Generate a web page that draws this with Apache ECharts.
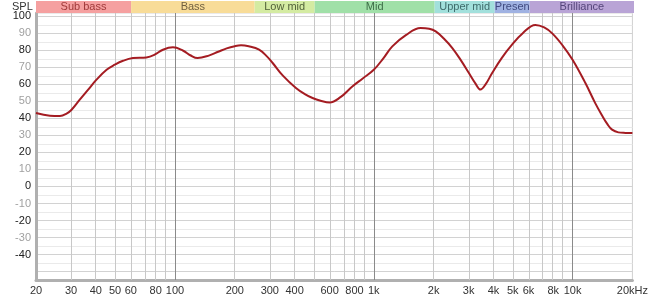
<!DOCTYPE html>
<html>
<head>
<meta charset="utf-8">
<script src="https://cdn.jsdelivr.net/npm/echarts@6/dist/echarts.min.js"></script>
<style>html,body{margin:0;padding:0;background:#fff}#c{width:651px;height:300px}</style>
</head>
<body>
<div id="c"></div>
<script>
// ---- data ----
const freqs = [20,23.5,26.4,28.5,30.2,33.2,36.6,40.3,45.3,49.8,54.8,61.5,71.8,79,87,97.7,110,120,130,149,165,182,200,215,235,265,290,310,350,406,450,492,540,600,680,780,880,1000,1120,1240,1450,1720,1900,2050,2250,2485,2750,3010,3250,3440,3650,3940,4400,4960,5600,6500,7200,7900,8900,10000,11600,13000,14000,15000,15800,17000,18500,20000];
const spl = [43.2,41.6,41.4,42.8,45.1,51,56.9,62.8,68.6,71.6,73.9,75.5,75.9,77.5,80.4,81.8,79.8,77,75.5,77.1,79.2,81.2,82.5,83,82.4,80.4,76.5,72.6,65,57.9,54.3,52,50.4,49.4,52.5,58.8,63.5,68.6,75.5,82.4,89,93.2,92.8,91.2,87,81.4,74,66.7,60.5,57,60,66.7,75.5,83.4,90,95,93.5,90,83,74.5,60.8,49,42.2,36.5,33.4,31.8,31.5,31.4];
const xTickFreqs = [20,30,40,50,60,80,100,200,300,400,600,800,1000,2000,3000,4000,5000,6000,8000,10000,20000];
const xTickLabels = ['20','30','40','50','60','80','100','200','300','400','600','800','1k','2k','3k','4k','5k','6k','8k','10k','20kHz'];
const gridFreqs = [30,40,50,60,70,80,90,100,200,300,400,500,600,700,800,900,1000,2000,3000,4000,5000,6000,7000,8000,9000,10000];
const majorGridFreqs = [100,1000,10000];
const bandNames = ['Sub bass','Bass','Low mid','Mid','Upper mid','Presen','Brilliance'];
const bandEdges = [20,60,250,500,2000,4000,6000,20000];
const bandColors = ['#f5a0a0','#f8dc98','#d4eba2','#a0e0a8','#a2e0dc','#a0b2e2','#b9a4d6'];
const bandTextColors = ['#a03a3a','#706040','#506038','#3e6e48','#3e6a6a','#404a80','#55457a'];
const yMin = -55, yMax = 102;

const lg = v => Math.log10(v);
const xMin = lg(20), xMax = lg(20000);
const labelMap = {};
xTickFreqs.forEach((f,i)=>{ labelMap[Math.round(f)] = xTickLabels[i]; });

const chart = echarts.init(document.getElementById('c'));
const FONT = 'Liberation Sans, Arial, sans-serif';

const vLines = gridFreqs.map(f => ({
  xAxis: lg(f),
  lineStyle: { color: majorGridFreqs.includes(f) ? '#8a8a8a' : '#c8c8c8', width: 1, type: 'solid' }
}));

const bandAreas = bandNames.map((n,i)=>[
  { xAxis: lg(bandEdges[i]), yAxis: 0, name: n,
    itemStyle: { color: bandColors[i] },
    label: { color: bandTextColors[i] } },
  { xAxis: lg(bandEdges[i+1]), yAxis: 1 }
]);

chart.setOption({
  animation: false,
  title: { text: 'SPL', left: 12, top: 1, padding: 0, textStyle: { fontSize: 11, fontWeight: 'normal', color: '#333', fontFamily: FONT } },
  grid: [
    { left: 36, right: 17, top: 13, bottom: 20, show: true, borderColor: '#d0d0d0', borderWidth: 1, backgroundColor: '#fff' },
    { left: 36, right: 17, top: 1, height: 12 }
  ],
  xAxis: [
    { type: 'value', gridIndex: 0, min: xMin, max: xMax,
      axisLine: { show: true, onZero: false, lineStyle: { color: '#b0b0b0', width: 3 } },
      axisTick: { show: false },
      splitLine: { show: false },
      axisLabel: { customValues: xTickFreqs.map(lg), margin: 5, fontSize: 11, color: '#333', fontFamily: FONT,
        formatter: v => labelMap[Math.round(Math.pow(10, v))] || '' } },
    { type: 'value', gridIndex: 1, min: xMin, max: xMax, show: false }
  ],
  yAxis: [
    { type: 'value', gridIndex: 0, min: yMin, max: yMax, interval: 5,
      axisLine: { show: true, lineStyle: { color: '#b0b0b0', width: 3 } },
      axisTick: { show: false },
      splitLine: { show: true, lineStyle: { color: ['#eaeaea','#d2d2d2'], width: 1 } },
      axisLabel: { margin: 5, fontSize: 11, fontFamily: FONT,
        formatter: v => {
          if (v % 10 !== 0 || v < -40 || v > 100) return '';
          return (v % 20 === 0 ? '{a|' : '{b|') + v + '}';
        },
        rich: { a: { color: '#222', fontSize: 11, fontFamily: FONT }, b: { color: '#a0a0a0', fontSize: 11, fontFamily: FONT } } } },
    { type: 'value', gridIndex: 1, min: 0, max: 1, show: false }
  ],
  series: [
    { type: 'line', xAxisIndex: 0, yAxisIndex: 0, z: 1, data: [], symbol: 'none', silent: true,
      markLine: { silent: true, symbol: ['none','none'], label: { show: false }, data: vLines } },
    { type: 'line', xAxisIndex: 1, yAxisIndex: 1, data: [], symbol: 'none', silent: true,
      markArea: { silent: true, label: { show: true, position: 'inside', fontSize: 11, fontFamily: FONT }, data: bandAreas } },
    { type: 'line', xAxisIndex: 0, yAxisIndex: 0, z: 5, symbol: 'none', smooth: 0.4,
      lineStyle: { color: '#a41c22', width: 2 },
      data: freqs.map((f,i)=>[lg(f), spl[i]]) }
  ]
});
</script>
</body>
</html>
